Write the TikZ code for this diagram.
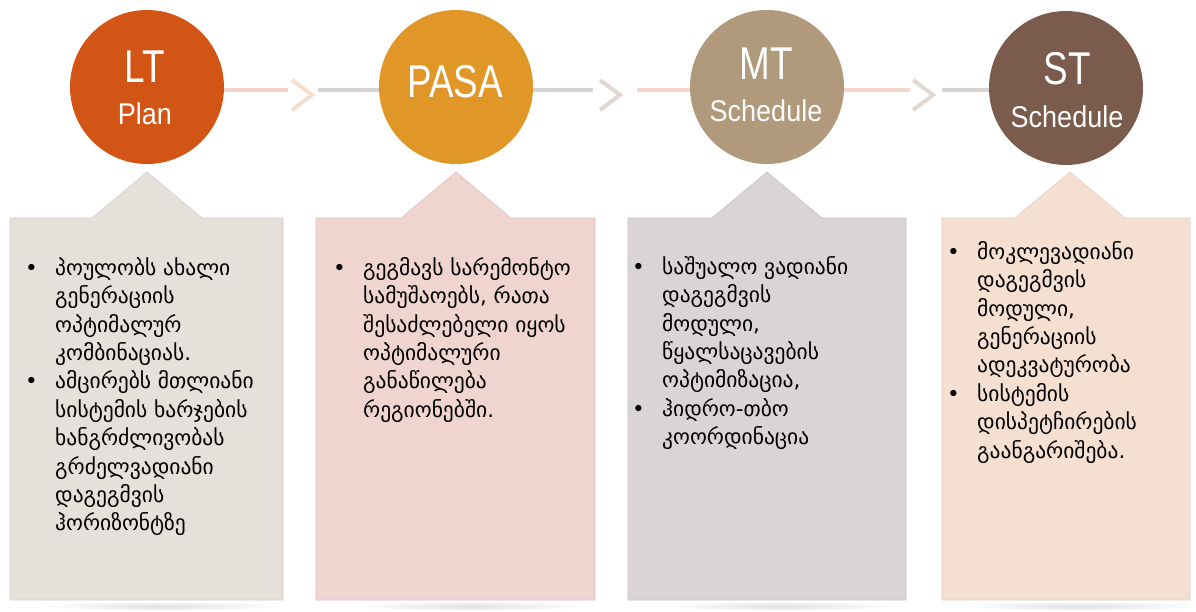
\documentclass[tikz,border=0pt]{standalone}
\usepackage{fontspec}
\setmainfont{Liberation Sans}
\newfontfamily\geofont{DejaVu Sans}
\newfontfamily\labelfont[FakeStretch=0.8]{Liberation Sans}
\newfontfamily\sublabelfont[FakeStretch=0.9]{Liberation Sans}
\usetikzlibrary{positioning}

\definecolor{ltcol}{HTML}{D35516}
\definecolor{pasacol}{HTML}{E09727}
\definecolor{mtcol}{HTML}{B09A7B}
\definecolor{stcol}{HTML}{7A5B4C}
\definecolor{ltbox}{HTML}{E6E0DA}
\definecolor{pasabox}{HTML}{F0D4D0}
\definecolor{mtbox}{HTML}{DAD4D4}
\definecolor{stbox}{HTML}{F5DFD1}
\definecolor{linepink}{HTML}{F2D3CB}
\definecolor{linegrey}{HTML}{D9D1CE}
\definecolor{linepeach}{HTML}{F4D8C7}
\definecolor{chevpeach}{HTML}{F6DECD}
\definecolor{chevgrey}{HTML}{E2D8D1}

\newcommand{\itm}{\llap{\makebox[30pt][l]{\textbullet}}}

\begin{document}
\begin{tikzpicture}[x=1pt,y=-1pt,line cap=round,line join=round,
  stage/.style={circle,minimum size=154pt,inner sep=0pt},
  bigtxt/.style={anchor=base,text=white,inner sep=0pt,font=\labelfont\fontsize{46}{46}\selectfont},
  smalltxt/.style={anchor=base,text=white,inner sep=0pt,font=\sublabelfont\fontsize{30}{30}\selectfont},
  bodytxt/.style={anchor=north west,inner sep=0pt,align=left,font=\geofont\fontsize{21.5}{28.4}\selectfont},
  link/.style={line width=4.5pt,line cap=butt},
  chev/.style={line width=4pt,line cap=butt,line join=miter}]
  \useasboundingbox (0,0) rectangle (1196,612);

  % soft shadows under the panels
  \foreach \m in {147,456,767,1066}
    \shade[inner color=black!12,outer color=white] (\m+15,606) ellipse (120 and 5);

  % panels with pointers
  \foreach \l/\r/\m/\c in {10/283/147/ltbox,316/595/456/pasabox,628/906/767/mtbox,942/1190/1070/stbox}
    \filldraw[fill=\c,draw=\c!92!black,line width=0.6pt]
      (\l,218) -- (\m-55,218) -- (\m,172) -- (\m+55,218) -- (\r,218)
      -- (\r,600) -- (\l,600) -- cycle;

  % stages
  \node[stage,fill=ltcol] (lt) at (147,87) {};
  \node[stage,fill=pasacol] (pasa) at (456,87) {};
  \node[stage,fill=mtcol] (mt) at (767,87) {};
  \node[stage,fill=stcol] (st) at (1066,88) {};

  \node[bigtxt] (ltA) at (145,83) {LT};
  \node[smalltxt] (ltB) at (145,125) {Plan};
  \node[bigtxt] (pasaA) at (455,98) {PASA};
  \node[bigtxt] (mtA) at (766,80) {MT};
  \node[smalltxt] (mtB) at (766,122) {Schedule};
  \node[bigtxt] (stA) at (1067,85) {ST};
  \node[smalltxt] (stB) at (1067,128) {Schedule};

  % connectors
  \coordinate (a1) at (288,90);
  \coordinate (c1) at (302,95);
  \coordinate (b1) at (318,90);
  \coordinate (a2) at (593,90);
  \coordinate (c2) at (610,95);
  \coordinate (b2) at (637,90);
  \coordinate (a3) at (910,90);
  \coordinate (c3) at (923,95);
  \coordinate (b3) at (942,90);

  \draw[link,linepink] (lt.east |- a1) -- (a1);
  \draw[chev,chevpeach] ([shift={(-10,-15)}]c1) -- ([shift={(10,0)}]c1) -- ([shift={(-10,15)}]c1);
  \draw[link,linegrey] (b1) -- (pasa.west |- b1);

  \draw[link,linegrey] (pasa.east |- a2) -- (a2);
  \draw[chev,chevgrey] ([shift={(-10,-15)}]c2) -- ([shift={(10,0)}]c2) -- ([shift={(-10,15)}]c2);
  \draw[link,linepeach] (b2) -- (mt.west |- b2);

  \draw[link,linepeach] (mt.east |- a3) -- (a3);
  \draw[chev,chevgrey] ([shift={(-10,-15)}]c3) -- ([shift={(10,0)}]c3) -- ([shift={(-10,15)}]c3);
  \draw[link,linegrey] (b3) -- (st.west |- b3);

  % panel texts
  \node[bodytxt] (ltT) at (55,257) {\itm პოულობს ახალი\\ გენერაციის\\ ოპტიმალურ\\ კომბინაციას.\\
    \itm ამცირებს მთლიანი\\ სისტემის ხარჯების\\ ხანგრძლივობას\\ გრძელვადიანი\\ დაგეგმვის\\ ჰორიზონტზე};
  \node[bodytxt] (pasaT) at (363,257) {\itm გეგმავს სარემონტო\\ სამუშაოებს, რათა\\ შესაძლებელი იყოს\\ ოპტიმალური\\ განაწილება\\ რეგიონებში.};
  \node[bodytxt] (mtT) at (662,256) {\itm საშუალო ვადიანი\\ დაგეგმვის\\ მოდული,\\ წყალსაცავების\\ ოპტიმიზაცია,\\
    \itm ჰიდრო-თბო\\ კოორდინაცია};
  \node[bodytxt] (stT) at (977,241) {\itm მოკლევადიანი\\ დაგეგმვის\\ მოდული,\\ გენერაციის\\ ადეკვატურობა\\
    \itm სისტემის\\ დისპეტჩირების\\ გაანგარიშება.};
\end{tikzpicture}
\end{document}
